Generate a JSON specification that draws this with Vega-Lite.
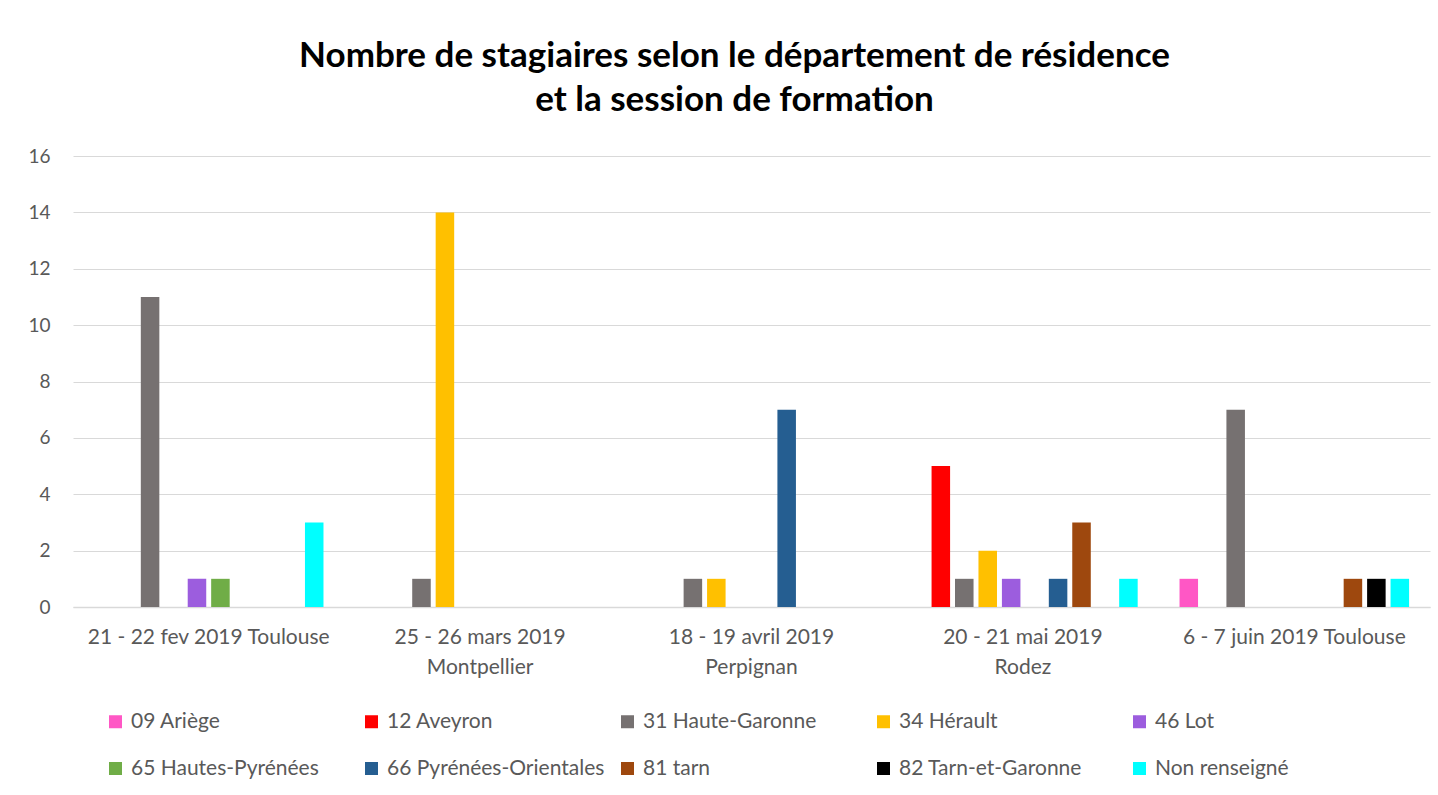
{
  "$schema": "https://vega.github.io/schema/vega-lite/v6.json",
  "autosize": {"type": "none"},
  "width": 1357,
  "height": 451,
  "padding": {"left": 73, "top": 156, "right": 8, "bottom": 188},
  "background": "white",
  "title": {
    "text": ["Nombre de stagiaires selon le département de résidence", "et la session de formation"],
    "font": "Lato",
    "fontSize": 35,
    "fontWeight": "bold",
    "color": "#000000",
    "anchor": "middle",
    "dx": -17,
    "offset": 29,
    "lineHeight": 44
  },
  "data": {
    "values": [
      {"session": "21 - 22 fev 2019 Toulouse", "departement": "31 Haute-Garonne", "stagiaires": 11},
      {"session": "21 - 22 fev 2019 Toulouse", "departement": "46 Lot", "stagiaires": 1},
      {"session": "21 - 22 fev 2019 Toulouse", "departement": "65 Hautes-Pyrénées", "stagiaires": 1},
      {"session": "21 - 22 fev 2019 Toulouse", "departement": "Non renseigné", "stagiaires": 3},
      {"session": "25 - 26 mars 2019 Montpellier", "departement": "31 Haute-Garonne", "stagiaires": 1},
      {"session": "25 - 26 mars 2019 Montpellier", "departement": "34 Hérault", "stagiaires": 14},
      {"session": "18 - 19 avril 2019 Perpignan", "departement": "31 Haute-Garonne", "stagiaires": 1},
      {"session": "18 - 19 avril 2019 Perpignan", "departement": "34 Hérault", "stagiaires": 1},
      {"session": "18 - 19 avril 2019 Perpignan", "departement": "66 Pyrénées-Orientales", "stagiaires": 7},
      {"session": "20 - 21 mai 2019 Rodez", "departement": "12 Aveyron", "stagiaires": 5},
      {"session": "20 - 21 mai 2019 Rodez", "departement": "31 Haute-Garonne", "stagiaires": 1},
      {"session": "20 - 21 mai 2019 Rodez", "departement": "34 Hérault", "stagiaires": 2},
      {"session": "20 - 21 mai 2019 Rodez", "departement": "46 Lot", "stagiaires": 1},
      {"session": "20 - 21 mai 2019 Rodez", "departement": "66 Pyrénées-Orientales", "stagiaires": 1},
      {"session": "20 - 21 mai 2019 Rodez", "departement": "81 tarn", "stagiaires": 3},
      {"session": "20 - 21 mai 2019 Rodez", "departement": "Non renseigné", "stagiaires": 1},
      {"session": "6 - 7 juin 2019 Toulouse", "departement": "09 Ariège", "stagiaires": 1},
      {"session": "6 - 7 juin 2019 Toulouse", "departement": "31 Haute-Garonne", "stagiaires": 7},
      {"session": "6 - 7 juin 2019 Toulouse", "departement": "81 tarn", "stagiaires": 1},
      {"session": "6 - 7 juin 2019 Toulouse", "departement": "82 Tarn-et-Garonne", "stagiaires": 1},
      {"session": "6 - 7 juin 2019 Toulouse", "departement": "Non renseigné", "stagiaires": 1}
    ]
  },
  "mark": {"type": "bar"},
  "encoding": {
    "x": {
      "field": "session",
      "type": "nominal",
      "sort": null,
      "scale": {
        "domain": ["21 - 22 fev 2019 Toulouse", "25 - 26 mars 2019 Montpellier", "18 - 19 avril 2019 Perpignan", "20 - 21 mai 2019 Rodez", "6 - 7 juin 2019 Toulouse"],
        "paddingInner": 0.136,
        "paddingOuter": 0.068
      },
      "axis": {
        "title": null,
        "labelAngle": 0,
        "labelFont": "Lato",
        "labelFontSize": 21,
        "labelColor": "#595959",
        "labelPadding": 19,
        "labelLineHeight": 30,
        "labelLimit": 400,
        "labelBaseline": "top",
        "ticks": false,
        "domainColor": "#d9d9d9",
        "domainWidth": 1.5,
        "labelExpr": "indexof(['21 - 22 fev 2019 Toulouse','6 - 7 juin 2019 Toulouse'], datum.label) >= 0 ? datum.label : [substring(datum.label, 0, lastindexof(datum.label, ' ')), substring(datum.label, lastindexof(datum.label, ' ') + 1)]"
      }
    },
    "xOffset": {
      "field": "departement",
      "type": "nominal",
      "scale": {
        "domain": ["09 Ariège", "12 Aveyron", "31 Haute-Garonne", "34 Hérault", "46 Lot", "65 Hautes-Pyrénées", "66 Pyrénées-Orientales", "81 tarn", "82 Tarn-et-Garonne", "Non renseigné"],
        "paddingInner": 0.21,
        "paddingOuter": 0.105
      }
    },
    "y": {
      "field": "stagiaires",
      "type": "quantitative",
      "scale": {"domain": [0, 16]},
      "axis": {
        "title": null,
        "values": [0, 2, 4, 6, 8, 10, 12, 14, 16],
        "labelFont": "Lato",
        "labelFontSize": 19,
        "labelColor": "#595959",
        "labelPadding": 23,
        "ticks": false,
        "domain": false,
        "gridColor": "#d9d9d9",
        "gridWidth": 1.2
      }
    },
    "color": {
      "field": "departement",
      "type": "nominal",
      "scale": {
        "domain": ["09 Ariège", "12 Aveyron", "31 Haute-Garonne", "34 Hérault", "46 Lot", "65 Hautes-Pyrénées", "66 Pyrénées-Orientales", "81 tarn", "82 Tarn-et-Garonne", "Non renseigné"],
        "range": ["#FF57C5", "#FF0000", "#767171", "#FFC000", "#9C5DDE", "#70AD47", "#255E91", "#9E480E", "#000000", "#00FFFF"]
      },
      "legend": {
        "title": null,
        "orient": "none",
        "legendX": 32,
        "legendY": 555,
        "direction": "horizontal",
        "columns": 5,
        "gridAlign": "all",
        "columnPadding": 12,
        "rowPadding": 25,
        "symbolType": "square",
        "symbolSize": 169,
        "symbolStrokeWidth": 0,
        "symbolOpacity": 1,
        "labelFont": "Lato",
        "labelFontSize": 21,
        "labelColor": "#595959",
        "labelOffset": 5,
        "labelLimit": 400
      }
    }
  },
  "config": {"view": {"stroke": null}}
}
